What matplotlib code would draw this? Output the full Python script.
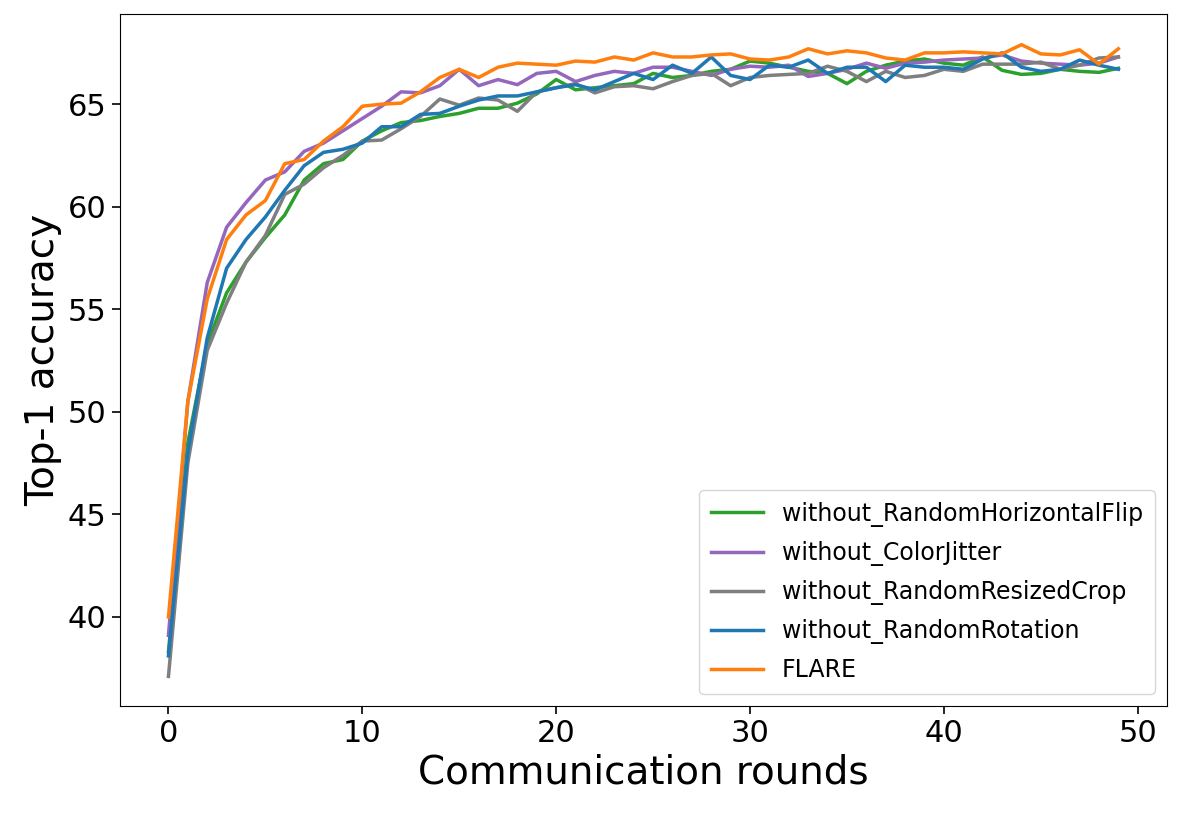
import matplotlib
matplotlib.use("Agg")
import matplotlib.pyplot as plt
import numpy as np

rounds = np.arange(50)
flip = [38.3,48.5,53.3,55.8,57.3,58.5,59.6,61.3,62.1,62.3,63.2,63.7,64.1,64.2,64.4,64.55,64.8,64.8,65.05,65.5,66.2,65.7,65.8,65.9,66.0,66.5,66.3,66.4,66.6,66.7,67.1,67.0,66.8,66.6,66.5,66.0,66.6,66.9,67.1,67.2,67.0,66.9,67.3,66.65,66.45,66.5,66.7,66.6,66.55,66.75]
jitter = [39.1,50.5,56.3,59.0,60.2,61.3,61.7,62.7,63.1,63.7,64.3,64.9,65.6,65.55,65.9,66.7,65.9,66.2,65.95,66.5,66.6,66.1,66.4,66.6,66.5,66.8,66.8,66.6,66.4,66.7,66.85,66.8,66.9,66.35,66.5,66.7,67.0,66.75,67.0,67.05,67.15,67.2,67.25,67.4,67.1,67.0,66.95,66.9,67.0,67.3]
crop = [37.1,47.5,53.0,55.3,57.3,58.6,60.6,61.1,61.9,62.5,63.2,63.25,63.8,64.4,65.25,64.95,65.3,65.2,64.65,65.6,65.8,66.0,65.55,65.85,65.9,65.75,66.1,66.4,66.5,65.9,66.3,66.4,66.45,66.5,66.85,66.6,66.1,66.6,66.3,66.4,66.7,66.6,66.95,66.95,66.95,67.05,66.7,66.9,67.25,67.3]
rot = [38.1,48.0,53.6,57.0,58.4,59.5,60.8,62.0,62.65,62.8,63.1,63.9,63.9,64.5,64.55,64.9,65.2,65.4,65.4,65.6,65.8,65.95,65.7,66.1,66.5,66.2,66.9,66.5,67.3,66.4,66.2,66.9,66.8,67.15,66.5,66.8,66.8,66.1,66.9,66.8,66.8,66.7,67.2,67.5,66.8,66.6,66.7,67.15,66.9,66.7]
flare = [40.0,50.5,55.5,58.4,59.6,60.3,62.1,62.3,63.2,63.9,64.9,65.0,65.05,65.6,66.3,66.7,66.3,66.8,67.0,66.95,66.9,67.1,67.05,67.3,67.15,67.5,67.3,67.3,67.4,67.45,67.2,67.15,67.3,67.7,67.45,67.6,67.5,67.25,67.15,67.5,67.5,67.55,67.5,67.45,67.9,67.45,67.4,67.65,66.95,67.7]

series = [("without_RandomHorizontalFlip", flip, "#2ca02c"),
          ("without_ColorJitter", jitter, "#9467bd"),
          ("without_RandomResizedCrop", crop, "#7f7f7f"),
          ("without_RandomRotation", rot, "#1f77b4"),
          ("FLARE", flare, "#ff7f0e")]

fig = plt.figure(figsize=(11.81, 8.18), dpi=100)
ax = fig.add_axes([0.1016, 0.137, 0.8864, 0.846])
for name, vals, c in series:
    ax.plot(rounds, vals, color=c, lw=2.5, label=name)
ax.set_xlim(-2.5, 51.5)
ax.set_ylim(35.66, 69.4)
ax.set_xticks([0, 10, 20, 30, 40, 50])
ax.set_yticks([40, 45, 50, 55, 60, 65])
ax.tick_params(labelsize=22, length=6, width=1.2)
ax.set_xlabel("Communication rounds", fontsize=28)
ax.set_ylabel("Top-1 accuracy", fontsize=28)
ax.legend(loc="lower right", fontsize=17, borderpad=0.5, labelspacing=0.6,
          handlelength=2.2)
fig.savefig("out.png", dpi=100)
